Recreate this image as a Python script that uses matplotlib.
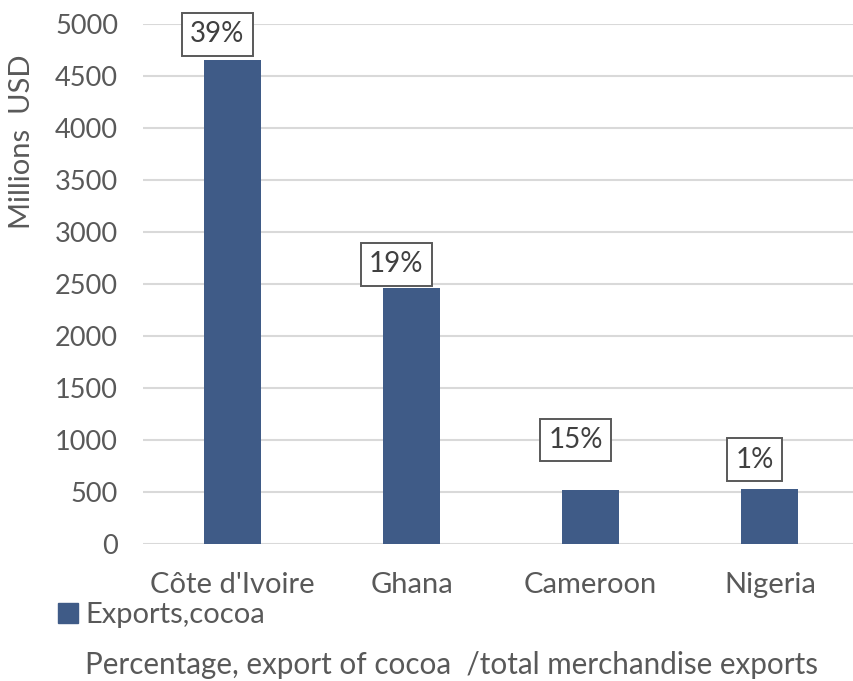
import matplotlib
matplotlib.use("Agg")
import matplotlib.pyplot as plt
from matplotlib.patches import Patch

# Cocoa export values (millions USD) and cocoa share of merchandise exports
countries = ["Côte d'Ivoire", "Ghana", "Cameroon", "Nigeria"]
exports_cocoa = [4655, 2465, 520, 525]
share_labels = ["39%", "19%", "15%", "1%"]
# vertical placement of the share boxes (data units, box centre)
label_heights = [4900, 2690, 1000, 810]

yticks = list(range(0, 5001, 500))

BAR = "#3F5B87"
TXT = "#595959"
FONT = ["Lato", "DejaVu Sans"]

plt.rcParams["font.family"] = FONT

fig = plt.figure(figsize=(8.54, 6.81), dpi=100)
W, H = 854, 681
ax = fig.add_axes([143 / W, 1 - 544 / H, 1 - 143 / W, (544 - 24) / H])

x = list(range(len(countries)))
ax.bar(x, exports_cocoa, width=0.32, color=BAR, zorder=3)

ax.set_xlim(-0.5, 3.47)
ax.set_ylim(0, 5000)
ax.set_yticks(yticks)
ax.set_yticklabels([str(v) for v in yticks])
ax.set_xticks(x)
ax.set_xticklabels(countries)
ax.tick_params(axis="y", length=0, pad=18, labelsize=19.5, labelcolor=TXT)
ax.tick_params(axis="x", length=0, pad=20, labelsize=21, labelcolor=TXT)

ax.grid(axis="y", color="#D9D9D9", linewidth=1.5, zorder=0)
for s in ax.spines.values():
    s.set_visible(False)

for xi, lab, yh in zip(x, share_labels, label_heights):
    ax.annotate(lab, xy=(xi, yh), xytext=(-11, 0), textcoords="offset points",
                ha="center", va="center", fontsize=20, color="#404040",
                annotation_clip=False,
                bbox=dict(boxstyle="square,pad=0.3", fc="white",
                          ec="#595959", lw=1.4))

fig.text(22 / W, 1 - 142 / H, "Millions  USD", rotation=90, ha="center",
         va="center", fontsize=21, color=TXT)

fig.legend(handles=[Patch(facecolor=BAR, edgecolor=BAR)],
           labels=["Exports,cocoa"], loc="center left",
           bbox_to_anchor=(58 / W, 1 - 615 / H), frameon=False,
           handlelength=0.7, handleheight=0.7, handletextpad=0.25,
           borderaxespad=0, borderpad=0,
           prop=dict(family=FONT, size=21), labelcolor=TXT)

fig.text(452 / W, 1 - 665 / H,
         "Percentage, export of cocoa  /total merchandise exports",
         ha="center", va="center", fontsize=21.3, color=TXT)

fig.savefig("out.png", dpi=100)
